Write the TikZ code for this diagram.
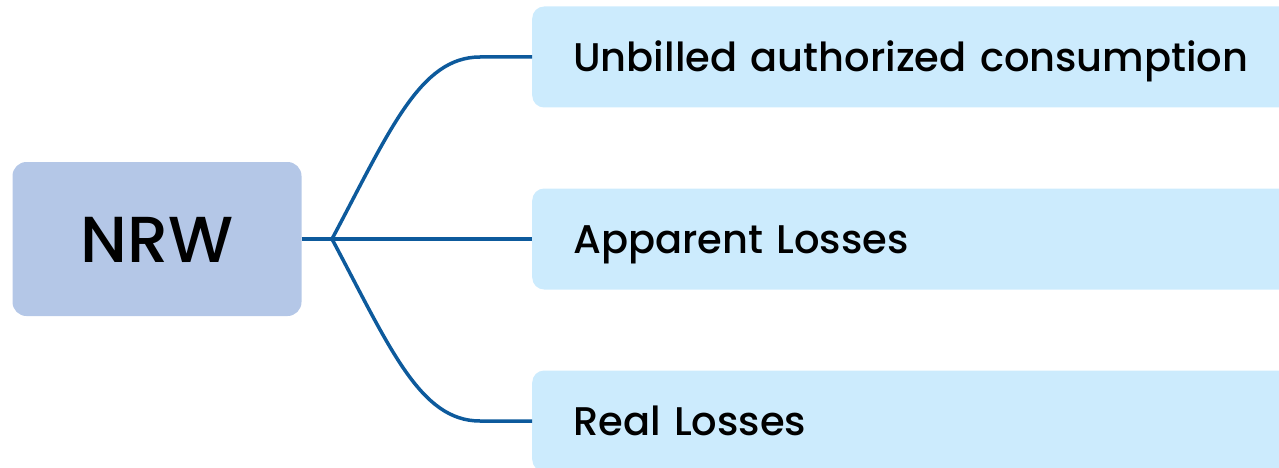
\documentclass[tikz,border=0pt]{standalone}
\usepackage{fontspec}
\setmainfont{Poppins}[UprightFont={* Medium}]
\definecolor{rootfill}{HTML}{B4C7E7}
\definecolor{leaffill}{HTML}{CCEBFD}
\definecolor{linkblue}{HTML}{0D5A9C}
\begin{document}
\begin{tikzpicture}[x=1pt,y=-1pt,
  rootbox/.style={fill=rootfill, rounded corners=14pt, minimum width=289pt,
    minimum height=154pt, inner sep=0pt, text height=47pt, text depth=0pt,
    font=\fontsize{65}{78}\selectfont},
  leafbox/.style={fill=leaffill, rounded corners=12pt, anchor=west,
    minimum height=101pt, text width=780pt, inner xsep=41pt, inner ysep=0pt,
    text height=29pt, text depth=0pt,
    align=left, font=\fontsize{40}{48}\selectfont},
  link/.style={draw=linkblue, line width=3.5pt}]
\useasboundingbox (0,0) rectangle (1279,468);
\clip (0,0) rectangle (1279,468);
% root and the three leaf boxes (leaves run off the right edge)
\node[rootbox] (nrw) at (157,239) {NRW};
\node[leafbox] (ubc) at (532,57) {Unbilled authorized consumption};
\node[leafbox] (apl) at (532,239) {Apparent Losses};
\node[leafbox] (rl) at (532,421) {Real Losses};
% branching connectors from a common fork point
\coordinate (fork) at (332,239);
\draw[link] (nrw.east) -- (fork) -- (apl.west);
\draw[link] (fork) .. controls (390,130) and (420,57) .. (480,57) -- (ubc.west);
\draw[link] (fork) .. controls (390,348) and (420,421) .. (480,421) -- (rl.west);
\end{tikzpicture}
\end{document}
